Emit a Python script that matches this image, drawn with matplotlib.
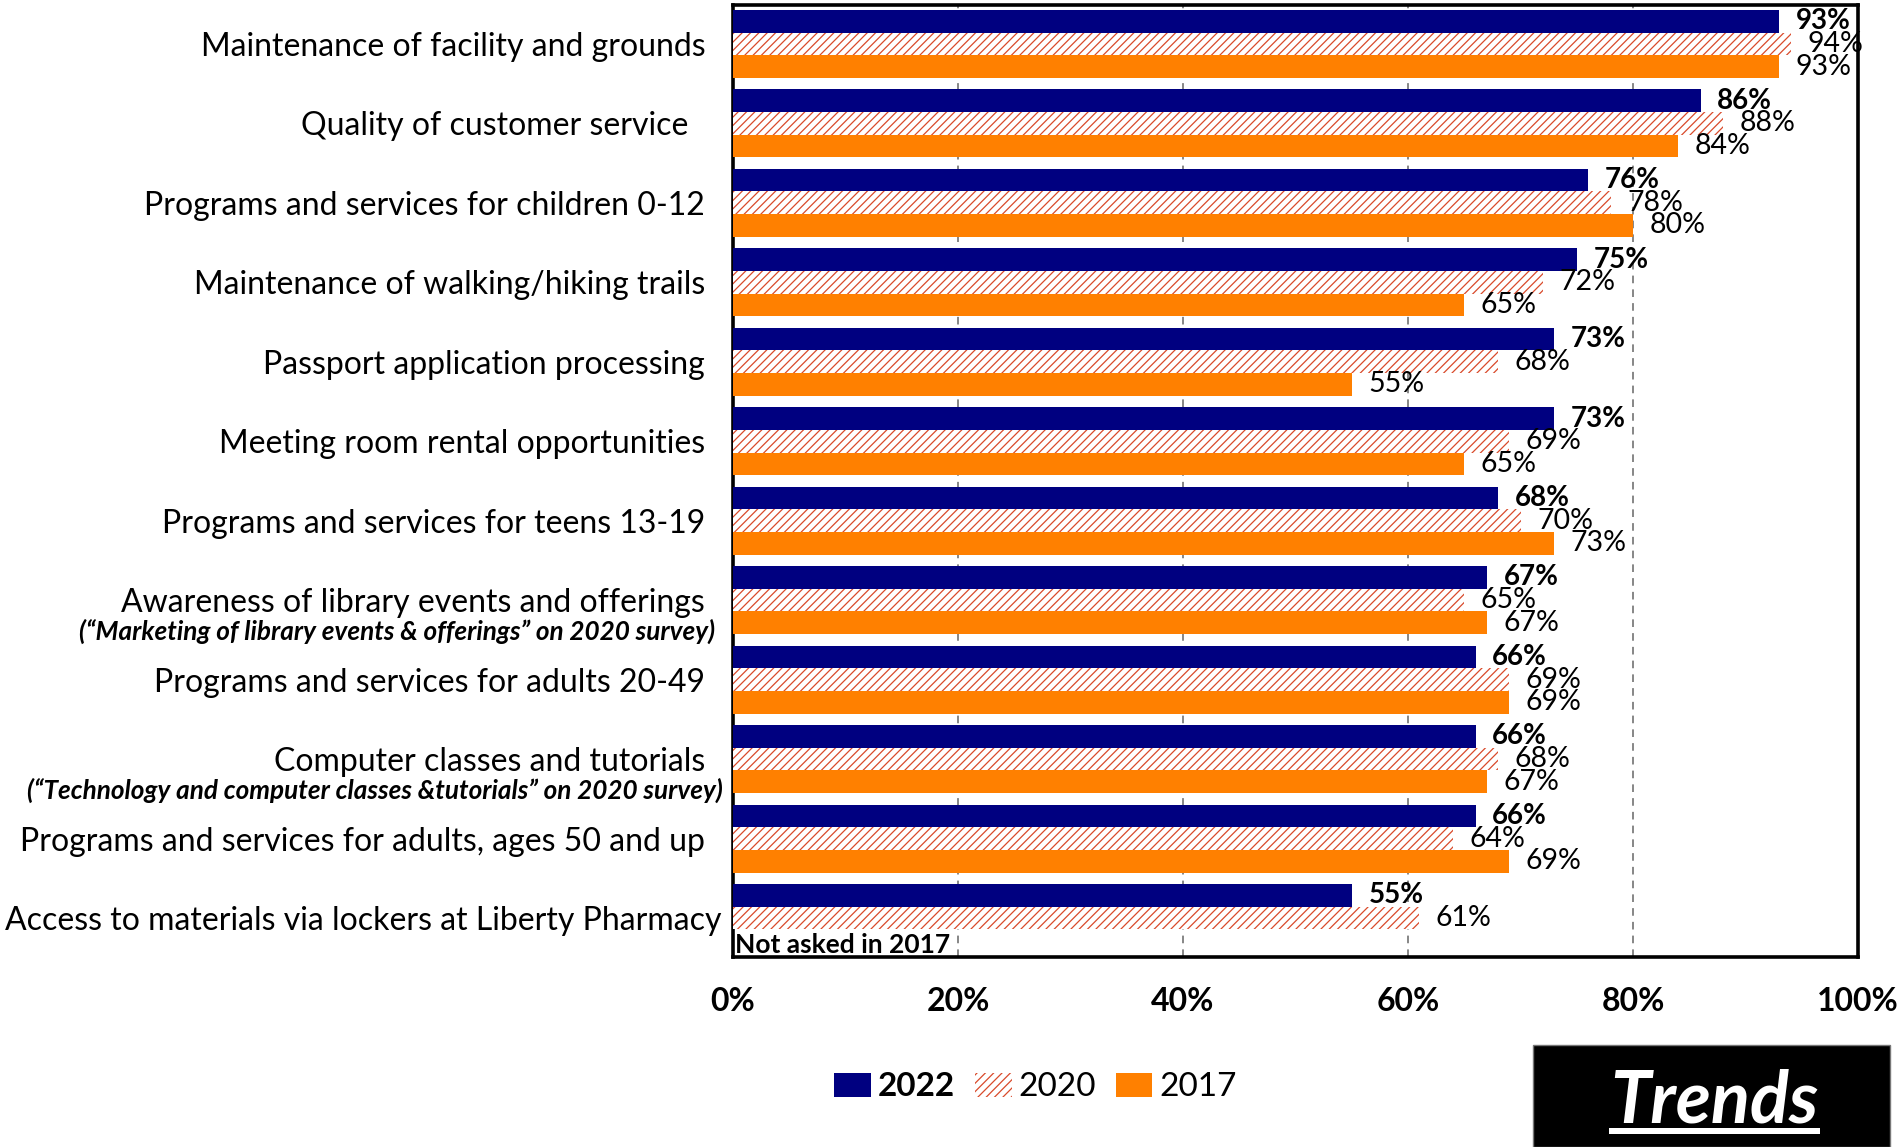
import numpy as np
import matplotlib.pyplot as plt
from matplotlib.patches import Patch, Rectangle

plt.rcParams['font.family'] = ['Lato', 'DejaVu Sans']
plt.rcParams['hatch.linewidth'] = 0.9

# survey items, top to bottom
categories = [
    'Maintenance of facility and grounds',
    'Quality of customer service',
    'Programs and services for children 0-12',
    'Maintenance of walking/hiking trails',
    'Passport application processing',
    'Meeting room rental opportunities',
    'Programs and services for teens 13-19',
    'Awareness of library events and offerings',
    'Programs and services for adults 20-49',
    'Computer classes and tutorials',
    'Programs and services for adults, ages 50 and up',
    'Access to materials via lockers at Liberty Pharmacy',
]
notes = {
    7: '(\u201cMarketing of library events & offerings\u201d on 2020 survey)',
    9: '(\u201cTechnology and computer classes &tutorials\u201d on 2020 survey)',
}
note_x = {7: -0.016, 9: -0.009}

pct_2022 = [93, 86, 76, 75, 73, 73, 68, 67, 66, 66, 66, 55]
pct_2020 = [94, 88, 78, 72, 68, 69, 70, 65, 69, 68, 64, 61]
pct_2017 = [93, 84, 80, 65, 55, 65, 73, 67, 69, 67, 69, np.nan]

navy = '#000080'
orange = '#FF8000'
hatch_red = '#D94A2B'

fig = plt.figure(figsize=(19, 11.47), dpi=100)
ax = fig.add_axes([0.3858, 0.1657, 0.5921, 0.830])

y = np.arange(len(categories))
h = 0.285

b22 = ax.barh(y - h, pct_2022, height=h, color=navy, zorder=3)
b20 = ax.barh(y, pct_2020, height=h, color='white', edgecolor=hatch_red,
              hatch='////', linewidth=0, zorder=3)
b17 = ax.barh(y + h, pct_2017, height=h, color=orange, zorder=3)


def labels_for(vals):
    return ['' if np.isnan(v) else f'{int(v)}%' for v in np.asarray(vals, float)]


ax.bar_label(b22, labels=labels_for(pct_2022), padding=12, fontsize=20,
             fontweight='bold')
ax.bar_label(b20, labels=labels_for(pct_2020), padding=12, fontsize=20.5)
ax.bar_label(b17, labels=labels_for(pct_2017), padding=12, fontsize=20.5)

# the lockers item was not on the 2017 survey
ax.text(0.2, y[-1] + h + 0.05, 'Not asked in 2017', fontsize=19, fontweight='bold',
        va='center', ha='left', zorder=4)

ax.set_xlim(0, 100)
ax.set_ylim(len(categories) - 1 + 0.49, -0.49)
ax.set_xticks([0, 20, 40, 60, 80, 100])
ax.set_xticklabels([f'{t}%' for t in [0, 20, 40, 60, 80, 100]],
                   fontsize=23, fontweight='bold')
ax.tick_params(axis='x', length=0, pad=22)

ax.set_yticks(y)
ax.set_yticklabels(categories, fontsize=23)
ax.tick_params(axis='y', length=0, pad=20)
ticks = ax.yaxis.get_major_ticks()
ticks[1].set_pad(32)
ticks[-1].set_pad(8)

for i, note in notes.items():
    ax.text(note_x[i], i + 0.39, note, transform=ax.get_yaxis_transform(),
            fontsize=18.8, fontweight='bold', style='italic',
            ha='right', va='center')

ax.grid(axis='x', color='#666666', linestyle=(0, (5, 4)), linewidth=1.1, zorder=0)
for s in ax.spines.values():
    s.set_linewidth(2.6)
    s.set_color('black')

handles = [
    Patch(facecolor=navy, label='2022'),
    Patch(facecolor='white', edgecolor=hatch_red, hatch='////', linewidth=0, label='2020'),
    Patch(facecolor=orange, label='2017'),
]
leg = fig.legend(handles=handles, loc='center', bbox_to_anchor=(0.545, 0.052),
                 ncol=3, frameon=False, fontsize=24, handlelength=1.1,
                 handleheight=0.72, handletextpad=0.2, columnspacing=0.6)
leg.get_texts()[0].set_fontweight('bold')

# "Trends" tag in the lower right corner
fig.patches.append(Rectangle((1533 / 1900, 0), (1890 - 1533) / 1900, 102 / 1147,
                             transform=fig.transFigure, facecolor='black',
                             edgecolor='#777777', linewidth=1))
fig.text(0.9025, 0.021, 'Trends', color='white', fontsize=52,
         fontweight='bold', style='italic', ha='center', va='baseline')
fig.patches.append(Rectangle((0.8468, 0.0113), 0.1111, 0.0053,
                             transform=fig.transFigure, facecolor='white',
                             edgecolor='none'))

fig.savefig('out.png', dpi=100)
